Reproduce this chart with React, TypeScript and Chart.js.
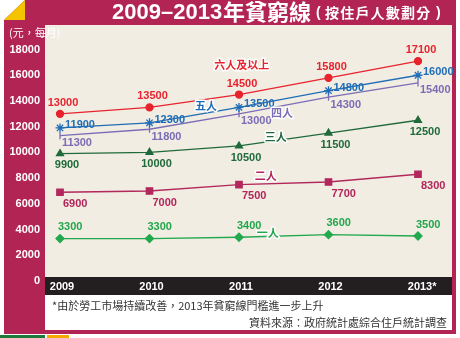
import React, { useEffect, useRef } from 'react';
import { Chart, registerables } from 'chart.js';

Chart.register(...registerables);

// ---------- data ----------
const years = [2009, 2010, 2011, 2012, 2013];
const yearLabels = ['2009', '2010', '2011', '2012', '2013*'];
const yTicks = [0, 2000, 4000, 6000, 8000, 10000, 12000, 14000, 16000, 18000];
const sixPlus = [13000, 13500, 14500, 15800, 17100];
const five = [11900, 12300, 13500, 14800, 16000];
const four = [11300, 11800, 13000, 14300, 15400];
const three = [9900, 10000, 10500, 11500, 12500];
const two = [6900, 7000, 7500, 7700, 8300];
const one = [3300, 3300, 3400, 3600, 3500];
const seriesNames = ['六人及以上', '五人', '四人', '三人', '二人', '一人'];
const titleMain = '2009–2013年貧窮線';
const titleSub = '按住戶人數劃分';
const unitLabel = '(元，每月)';
const footnote = '*由於勞工市場持續改善，2013年貧窮線門檻進一步上升';
const source = '資料來源：政府統計處綜合住戶統計調查';

// ---------- styles ----------
const CRIMSON = '#b22454';
const BEIGE = '#f1ede3';
const CJK = '"Noto Sans CJK TC", "Noto Sans CJK SC", sans-serif';
const LAT = '"Liberation Sans", Arial, sans-serif';

type Style = {
  color: string; textColor: string; pointStyle: any; radius: number; rotation?: number;
  align: CanvasTextAlign; dx: number; dy: number; nameAt: [number, number];
};
const styles: Style[] = [
  { color: '#e8232d', textColor: '#e8232d', pointStyle: 'circle', radius: 3.5, align: 'center', dx: 3, dy: -11, nameAt: [2011.03, 16800] },
  { color: '#1f6db5', textColor: '#1f6db5', pointStyle: 'star', radius: 4.5, align: 'left', dx: 5, dy: -3, nameAt: [2010.63, 13600] },
  { color: '#7a6cb5', textColor: '#7a6cb5', pointStyle: 'line', radius: 3.5, rotation: 90, align: 'left', dx: 2, dy: 7.5, nameAt: [2011.48, 13060] },
  { color: '#1f6a3a', textColor: '#1f6a3a', pointStyle: 'triangle', radius: 4, align: 'center', dx: 7, dy: 11.5, nameAt: [2011.41, 11200] },
  { color: '#b2285c', textColor: '#b2245a', pointStyle: 'rect', radius: 4.5, align: 'left', dx: 3, dy: 11.5, nameAt: [2011.3, 8160] },
  { color: '#22a84d', textColor: '#22a64c', pointStyle: 'rectRot', radius: 4, align: 'left', dx: -2, dy: -11.5, nameAt: [2011.32, 3730] },
];
const seriesData = [sixPlus, five, four, three, two, one];

const decor = {
  id: 'decor',
  beforeDraw(chart: any) {
    const { ctx, chartArea: a, width, height } = chart;
    ctx.save();
    ctx.fillStyle = '#ffffff';
    ctx.fillRect(0, 0, width, height);
    // frame
    ctx.fillStyle = CRIMSON;
    ctx.fillRect(4, 0, 452, 334);
    // folded corner
    ctx.fillStyle = '#ffffff';
    ctx.beginPath();
    ctx.moveTo(4, 0); ctx.lineTo(25, 0); ctx.lineTo(4, 20); ctx.closePath(); ctx.fill();
    ctx.fillStyle = '#f5c400';
    ctx.beginPath();
    ctx.moveTo(25, 0); ctx.lineTo(25, 20); ctx.lineTo(4, 20); ctx.closePath(); ctx.fill();
    // plot background
    ctx.fillStyle = BEIGE;
    ctx.fillRect(a.left, a.top, a.right - a.left, 277 - a.top);
    // title
    ctx.fillStyle = '#ffffff';
    ctx.textBaseline = 'middle';
    ctx.textAlign = 'left';
    ctx.font = `bold 22px ${LAT}`;
    const digits = '2009–2013';
    let x = 112;
    ctx.fillText(digits, x, 12.5);
    x += ctx.measureText(digits).width + 1;
    ctx.font = `bold 22px ${CJK}`;
    const rest = titleMain.slice(digits.length);
    ctx.fillText(rest, x, 12);
    // subtitle with wide spacing
    ctx.font = `bold 14px ${LAT}`;
    ctx.fillText('(', 316, 13);
    ctx.fillText(')', 436, 13);
    ctx.font = `bold 14px ${CJK}`;
    Array.from(titleSub).forEach((ch, i) => {
      ctx.fillText(ch, 325 + i * 15.2, 13);
    });
    // unit
    ctx.font = `11px ${CJK}`;
    ctx.fillStyle = '#ffffff';
    ctx.fillText(unitLabel, 9, 33);
    ctx.restore();
  },
  afterDatasetsDraw(chart: any) {
    const { ctx } = chart;
    const xs = chart.scales.x, ys = chart.scales.y;
    ctx.save();
    ctx.textBaseline = 'middle';
    seriesData.forEach((arr, si) => {
      const s = styles[si];
      ctx.font = `bold 11px ${LAT}`;
      ctx.fillStyle = s.textColor;
      ctx.textAlign = s.align;
      arr.forEach((v, i) => {
        const px = xs.getPixelForValue(years[i]);
        const py = ys.getPixelForValue(v);
        ctx.fillText(String(v), px + s.dx, py + s.dy);
      });
      // series name
      const nx = xs.getPixelForValue(s.nameAt[0]);
      const ny = ys.getPixelForValue(s.nameAt[1]);
      ctx.font = `bold 11px ${CJK}`;
      ctx.textAlign = 'center';
      ctx.lineWidth = 3;
      ctx.strokeStyle = '#ffffff';
      ctx.lineJoin = 'round';
      ctx.strokeText(seriesNames[si], nx, ny);
      ctx.fillStyle = s.textColor;
      ctx.fillText(seriesNames[si], nx, ny);
    });
    ctx.restore();
  },
  afterDraw(chart: any) {
    const { ctx, chartArea: a } = chart;
    const xs = chart.scales.x;
    ctx.save();
    // black band with years
    ctx.fillStyle = '#231f20';
    ctx.fillRect(a.left, 277, a.right - a.left, 18);
    ctx.fillStyle = '#ffffff';
    ctx.font = `bold 11px ${LAT}`;
    ctx.textBaseline = 'middle';
    ctx.textAlign = 'left';
    yearLabels.forEach((lab, i) => {
      const px = xs.getPixelForValue(years[i]);
      const w = ctx.measureText(String(years[i])).width;
      ctx.fillText(lab, px - w / 2 + 2, 287);
    });
    // footnote area
    ctx.fillStyle = '#ffffff';
    ctx.fillRect(a.left, 295, a.right - a.left, 35);
    ctx.fillStyle = '#333333';
    ctx.font = `11px ${CJK}`;
    ctx.textAlign = 'left';
    ctx.fillText(footnote, 52, 306);
    ctx.textAlign = 'right';
    ctx.fillText(source, 447, 323);
    // bottom strip
    ctx.fillStyle = '#ffffff';
    ctx.fillRect(0, 334, 460, 4);
    ctx.fillStyle = '#1e7a3a';
    ctx.fillRect(0, 335, 45, 3);
    ctx.fillStyle = '#f5a800';
    ctx.fillRect(47, 335, 22, 3);
    ctx.restore();
  },
};

export default function App() {
  const ref = useRef<HTMLCanvasElement>(null);
  useEffect(() => {
    if (!ref.current) return;
    const chart = new Chart(ref.current, {
      type: 'line',
      data: {
        datasets: seriesData.map((arr, si) => ({
          label: seriesNames[si],
          data: arr.map((v, i) => ({ x: years[i], y: v })),
          borderColor: styles[si].color,
          backgroundColor: styles[si].color,
          pointBorderColor: styles[si].color,
          pointBackgroundColor: styles[si].color,
          pointStyle: styles[si].pointStyle,
          pointRadius: styles[si].radius,
          pointRotation: styles[si].rotation || 0,
          pointBorderWidth: 1.3,
          borderWidth: 1.3,
          tension: 0,
          fill: false,
        })),
      },
      options: {
        animation: false,
        responsive: false,
        devicePixelRatio: 1,
        layout: { padding: { left: 0, right: 8, top: 25, bottom: 43 } },
        plugins: { legend: { display: false }, tooltip: { enabled: false } },
        scales: {
          x: {
            type: 'linear',
            display: false,
            min: 2009 - 15 / 89.5,
            max: 2013 + 34 / 89.5,
          },
          y: {
            type: 'linear',
            min: -1089,
            max: 19907,
            afterBuildTicks: (scale: any) => { scale.ticks = yTicks.map((v) => ({ value: v })); },
            afterFit: (scale: any) => { scale.width = 45; },
            grid: { display: false, drawTicks: false },
            border: { display: false },
            ticks: {
              padding: 5,
              color: '#ffffff',
              font: { family: LAT, weight: 'bold', size: 11 },
              callback: (v: any) => String(v),
            },
          },
        },
      },
      plugins: [decor],
    });
    return () => chart.destroy();
  }, []);
  return (
    <div style={{ position: 'fixed', left: 0, top: 0 }}>
      <canvas ref={ref} width={460} height={338} style={{ display: 'block' }} />
    </div>
  );
}
